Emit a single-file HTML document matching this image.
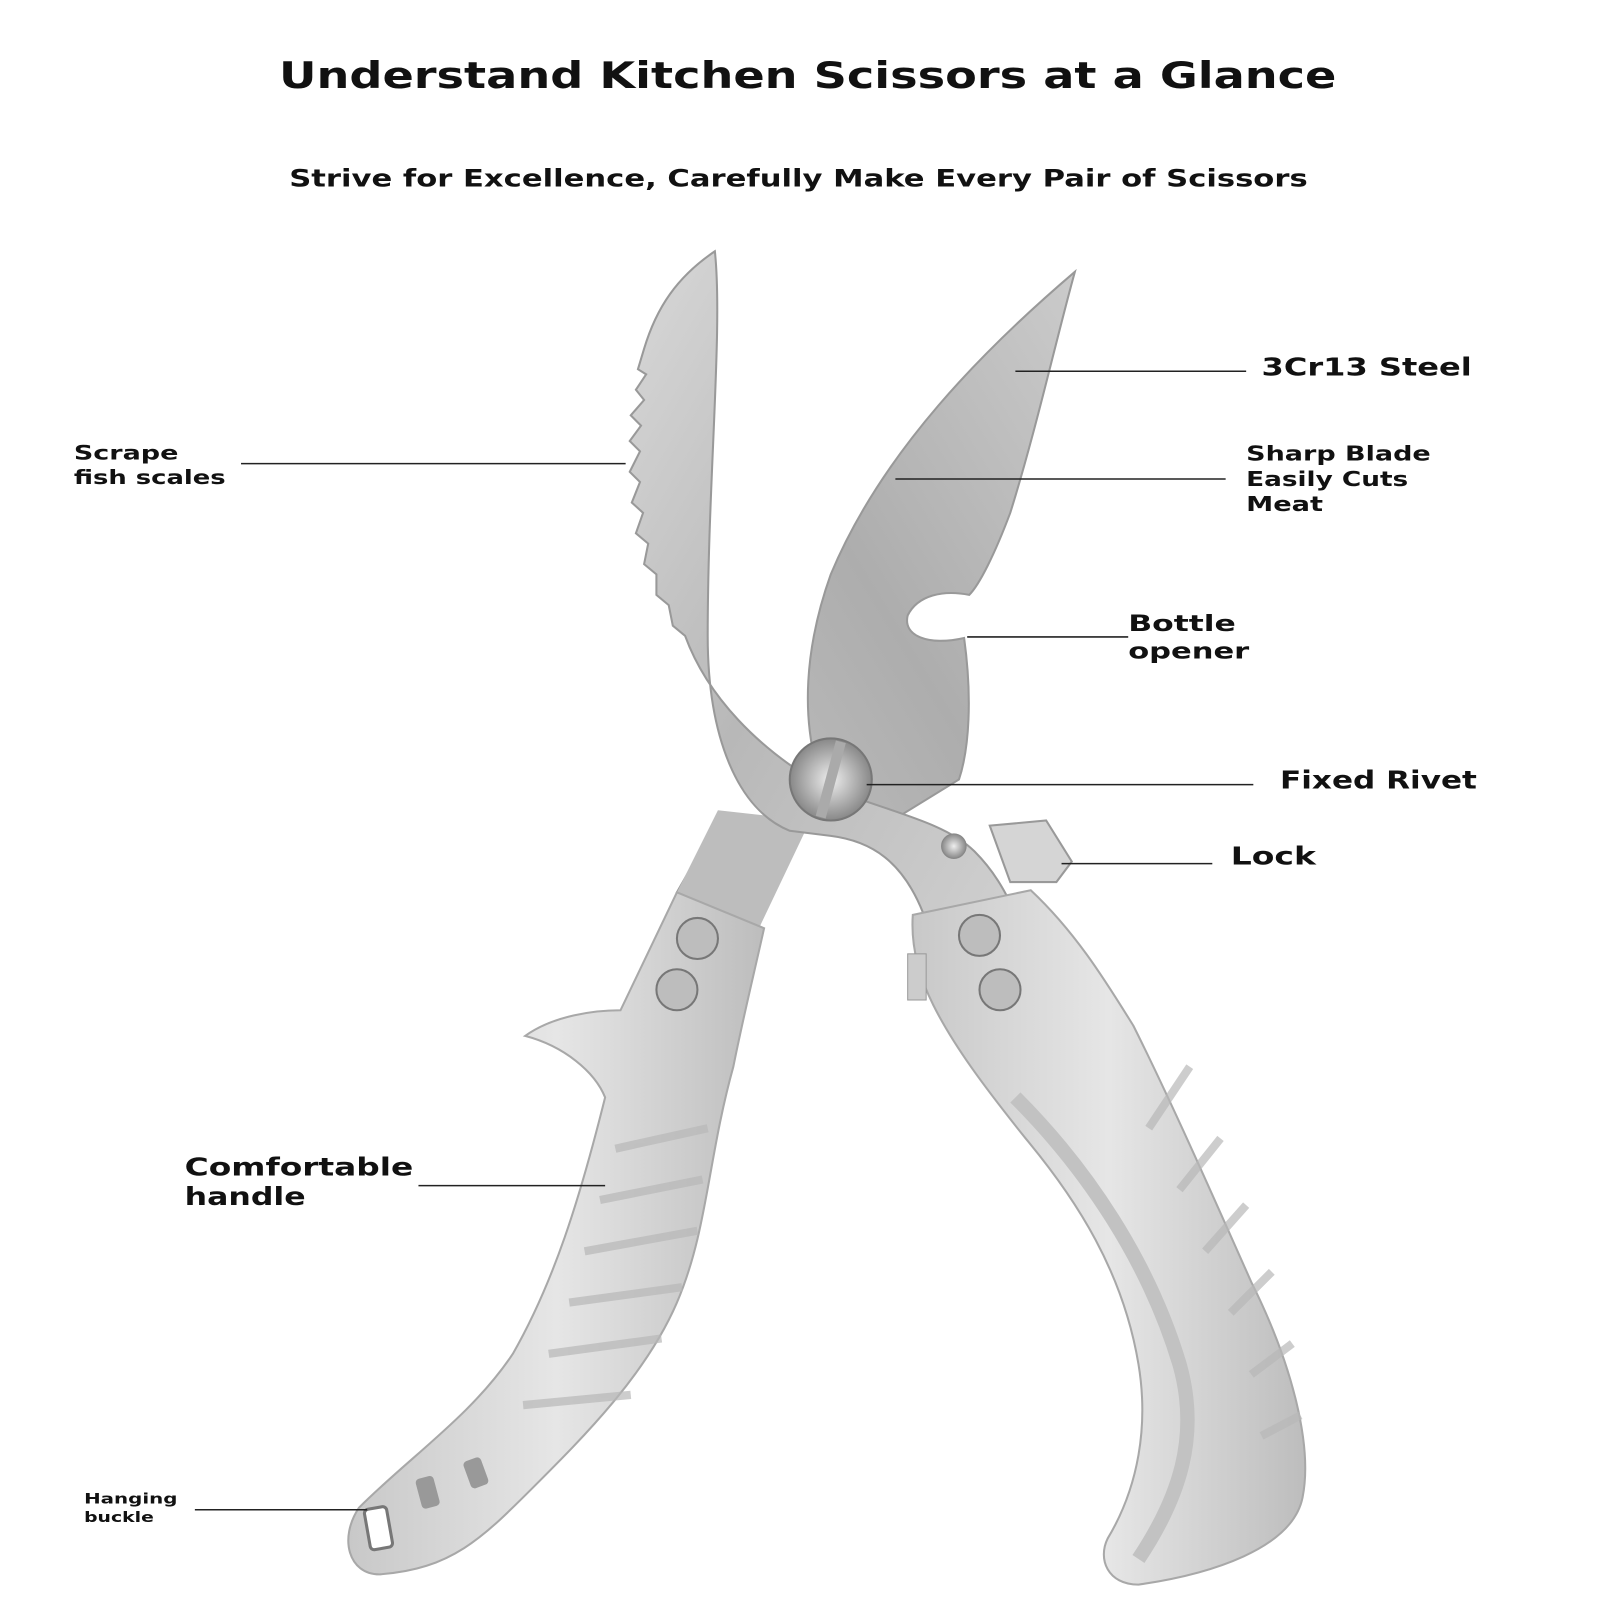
<!DOCTYPE html>
<html><head><meta charset="utf-8"><style>
html,body{margin:0;padding:0;background:#fff;}
svg{display:block}
text{font-family:"DejaVu Sans","Liberation Sans",sans-serif;font-weight:bold;fill:#111}
</style></head><body>
<svg width="1600" height="1600" viewBox="0 0 1560 1560" preserveAspectRatio="none" xmlns="http://www.w3.org/2000/svg">
<defs>
<linearGradient id="bl" x1="0" y1="0" x2="1" y2="1">
<stop offset="0" stop-color="#d8d8d8"/><stop offset="0.5" stop-color="#b8b8b8"/><stop offset="1" stop-color="#cfcfcf"/></linearGradient>
<linearGradient id="br" x1="1" y1="0" x2="0" y2="1">
<stop offset="0" stop-color="#cbcbcb"/><stop offset="0.5" stop-color="#adadad"/><stop offset="1" stop-color="#c4c4c4"/></linearGradient>
<linearGradient id="hd" x1="0" y1="0" x2="1" y2="0">
<stop offset="0" stop-color="#c8c8c8"/><stop offset="0.5" stop-color="#e6e6e6"/><stop offset="1" stop-color="#bdbdbd"/></linearGradient>
<radialGradient id="rv"><stop offset="0" stop-color="#eee"/><stop offset="1" stop-color="#888"/></radialGradient>
</defs>
<text x="272" y="86" font-size="36" textLength="1031" lengthAdjust="spacingAndGlyphs">Understand Kitchen Scissors at a Glance</text>
<text x="282" y="182" font-size="23" textLength="993" lengthAdjust="spacingAndGlyphs">Strive for Excellence, Carefully Make Every Pair of Scissors</text>

<!-- right blade (behind) -->
<path d="M1048 265 C1030 330 1010 420 985 500 C970 540 955 570 945 580 C920 575 895 580 885 600 C880 620 905 630 940 622 C948 680 945 730 935 760 L870 800 L780 800 L700 800 L660 870 L735 900 C760 850 790 800 800 760 C780 700 785 630 810 560 C860 440 960 340 1048 265 Z" fill="url(#br)" stroke="#999" stroke-width="2"/>
<path d="M660 870 L700 790 L790 800 L740 905 Z" fill="#bdbdbd"/>
<!-- left blade -->
<path d="M697 245 C660 270 640 300 628 340 L622 360 L630 365 L620 380 L628 390 L615 405 L625 415 L614 430 L624 440 L614 460 L624 470 L616 490 L627 500 L620 520 L632 530 L628 550 L640 560 L640 580 L652 590 L656 610 L668 620 C690 680 740 730 800 765 C860 790 920 800 950 830 C970 850 980 870 985 880 L900 890 C880 840 850 820 810 815 L770 810 C720 790 690 720 690 620 C690 470 705 320 697 245 Z" fill="url(#bl)" stroke="#999" stroke-width="2"/>
<!-- pivot -->
<circle cx="810" cy="760" r="40" fill="url(#rv)" stroke="#777" stroke-width="2"/>
<rect x="805" y="722" width="10" height="76" fill="#aaa" transform="rotate(15 810 760)"/>
<circle cx="930" cy="825" r="12" fill="url(#rv)" stroke="#888"/>
<!-- lock -->
<path d="M965 805 L1020 800 L1045 840 L1030 860 L985 860 Z" fill="#d5d5d5" stroke="#999" stroke-width="2"/>
<!-- left handle -->
<path d="M660 870 L745 905 C735 950 725 990 715 1040 C690 1130 690 1200 660 1270 C630 1340 570 1400 520 1450 C470 1500 440 1530 370 1535 C340 1535 330 1500 350 1470 C400 1420 460 1380 500 1320 C540 1250 565 1170 590 1070 C580 1045 550 1020 512 1010 C540 990 580 985 605 985 Z" fill="url(#hd)" stroke="#a8a8a8" stroke-width="2"/>
<g stroke="#b8b8b8" stroke-width="8" fill="none" opacity="0.7">
<path d="M600 1120 L690 1100"/><path d="M585 1170 L685 1150"/><path d="M570 1220 L680 1200"/><path d="M555 1270 L665 1255"/><path d="M535 1320 L645 1305"/><path d="M510 1370 L615 1360"/>
</g>
<rect x="358" y="1470" width="22" height="40" rx="4" fill="#fff" stroke="#777" stroke-width="3" transform="rotate(-10 369 1490)"/>
<rect x="408" y="1440" width="18" height="30" rx="4" fill="#999" transform="rotate(-15 417 1455)"/>
<rect x="455" y="1422" width="18" height="28" rx="4" fill="#999" transform="rotate(-20 464 1436)"/>
<circle cx="680" cy="915" r="20" fill="#bdbdbd" stroke="#777" stroke-width="2"/>
<circle cx="660" cy="965" r="20" fill="#bdbdbd" stroke="#777" stroke-width="2"/>
<!-- right handle -->
<path d="M890 892 L1005 868 C1050 910 1080 960 1105 1000 C1140 1070 1180 1160 1220 1250 C1260 1330 1280 1410 1270 1460 C1260 1510 1180 1535 1110 1545 C1080 1545 1070 1520 1080 1500 C1110 1450 1120 1390 1110 1330 C1095 1240 1050 1170 1000 1110 C960 1060 930 1020 910 980 C895 950 888 920 890 892 Z" fill="url(#hd)" stroke="#a8a8a8" stroke-width="2"/>
<rect x="885" y="930" width="18" height="45" fill="#ccc" stroke="#999"/>
<path d="M990 1070 C1060 1140 1120 1230 1150 1330 C1170 1400 1150 1460 1110 1520" fill="none" stroke="#c2c2c2" stroke-width="14"/>
<g stroke="#b8b8b8" stroke-width="8" fill="none" opacity="0.7">
<path d="M1120 1100 L1160 1040"/><path d="M1150 1160 L1190 1110"/><path d="M1175 1220 L1215 1175"/><path d="M1200 1280 L1240 1240"/><path d="M1220 1340 L1260 1310"/><path d="M1230 1400 L1268 1380"/>
</g>
<circle cx="955" cy="912" r="20" fill="#bdbdbd" stroke="#777" stroke-width="2"/>
<circle cx="975" cy="965" r="20" fill="#bdbdbd" stroke="#777" stroke-width="2"/>

<!-- leaders -->
<g stroke="#222" stroke-width="1.5">
<line x1="990" y1="362" x2="1215" y2="362"/>
<line x1="235" y1="452" x2="610" y2="452"/>
<line x1="873" y1="467" x2="1195" y2="467"/>
<line x1="943" y1="621" x2="1100" y2="621"/>
<line x1="845" y1="765" x2="1222" y2="765"/>
<line x1="1035" y1="842" x2="1182" y2="842"/>
<line x1="408" y1="1156" x2="590" y2="1156"/>
<line x1="190" y1="1472" x2="358" y2="1472"/>
</g>
<g lengthAdjust="spacingAndGlyphs">
<text x="1230" y="366" font-size="24" textLength="205" lengthAdjust="spacingAndGlyphs">3Cr13 Steel</text>
<text x="72" y="448" font-size="19" textLength="102" lengthAdjust="spacingAndGlyphs">Scrape</text>
<text x="72" y="472" font-size="19" textLength="148" lengthAdjust="spacingAndGlyphs">fish scales</text>
<text x="1215" y="449" font-size="20" textLength="180" lengthAdjust="spacingAndGlyphs">Sharp Blade</text>
<text x="1215" y="474" font-size="20" textLength="158" lengthAdjust="spacingAndGlyphs">Easily Cuts</text>
<text x="1215" y="498" font-size="20" textLength="75" lengthAdjust="spacingAndGlyphs">Meat</text>
<text x="1100" y="615" font-size="22" textLength="105" lengthAdjust="spacingAndGlyphs">Bottle</text>
<text x="1100" y="642" font-size="22" textLength="118" lengthAdjust="spacingAndGlyphs">opener</text>
<text x="1248" y="769" font-size="24" textLength="192" lengthAdjust="spacingAndGlyphs">Fixed Rivet</text>
<text x="1200" y="843" font-size="24" textLength="83" lengthAdjust="spacingAndGlyphs">Lock</text>
<text x="180" y="1146" font-size="24" textLength="223" lengthAdjust="spacingAndGlyphs">Comfortable</text>
<text x="180" y="1175" font-size="24" textLength="118" lengthAdjust="spacingAndGlyphs">handle</text>
<text x="82" y="1466" font-size="14" textLength="91" lengthAdjust="spacingAndGlyphs">Hanging</text>
<text x="82" y="1484" font-size="14" textLength="68" lengthAdjust="spacingAndGlyphs">buckle</text>
</g>
</svg>
</body></html>
